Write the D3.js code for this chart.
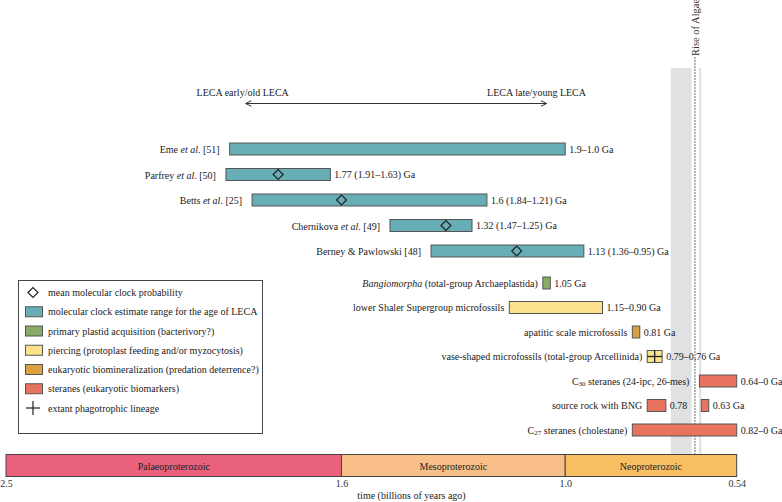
<!DOCTYPE html>
<html>
<head>
<meta charset="utf-8">
<script src="https://cdn.jsdelivr.net/npm/d3@7"></script>
<style>
  html, body { margin: 0; padding: 0; background: #fff; }
  svg { display: block; font-family: "Liberation Serif", "Times New Roman", serif; }
</style>
</head>
<body>
<svg id="chart" width="782" height="502"></svg>
<script>
// ---------- data ----------
const lecaStudies = ["Eme", "Parfrey", "Betts", "Chernikova", "Berney & Pawlowski [48]"];
const lecaEtAl = [true, true, true, true, false];
const lecaRefs = ["[51]", "[50]", "[25]", "[49]", ""];
const lecaStart = [1.9, 1.91, 1.84, 1.47, 1.36];
const lecaEnd = [1.0, 1.63, 1.21, 1.25, 0.95];
const lecaMean = [null, 1.77, 1.6, 1.32, 1.13];
const lecaLabels = ["1.9–1.0 Ga", "1.77 (1.91–1.63) Ga", "1.6 (1.84–1.21) Ga", "1.32 (1.47–1.25) Ga", "1.13 (1.36–0.95) Ga"];

const fossilRows = ["bangio", "shaler", "apatitic", "vase", "c30", "bng", "c27"];
const segRow = [0, 1, 2, 3, 4, 5, 5, 6];
const segStart = [1.06, 1.15, 0.82, 0.78, 0.64, 0.78, 0.635, 0.82];
const segEnd = [1.04, 0.90, 0.80, 0.74, 0, 0.73, 0.615, 0];
const segLabel = ["1.05 Ga", "1.15–0.90 Ga", "0.81 Ga", "0.79–0.76 Ga", "0.64–0 Ga", "0.78", "0.63 Ga", "0.82–0 Ga"];
const segCategory = ["plastid", "piercing", "biomin", "piercing", "steranes", "steranes", "steranes", "steranes"];
const segLineage = [false, false, false, true, false, false, false, false];

const glaciationStart = [0.717, 0.641];
const glaciationEnd = [0.661, 0.635];
const riseOfAlgae = 0.652;

const eraNames = ["Palaeoproterozoic", "Mesoproterozoic", "Neoproterozoic"];
const eraStart = [2.5, 1.6, 1.0];
const eraEnd = [1.6, 1.0, 0.54];
const tickValues = [2.5, 1.6, 1.0, 0.54];
const tickLabels = ["2.5", "1.6", "1.0", "0.54"];

const arrowFrom = 1.857, arrowTo = 1.05;

const legendLabels = [
  "mean molecular clock probability",
  "molecular clock estimate range for the age of LECA",
  "primary plastid acquisition (bacterivory?)",
  "piercing (protoplast feeding and/or myzocytosis)",
  "eukaryotic biomineralization (predation deterrence?)",
  "steranes (eukaryotic biomarkers)",
  "extant phagotrophic lineage"
];
const legendKinds = ["diamond", "leca", "plastid", "piercing", "biomin", "steranes", "cross"];

// ---------- styles ----------
const colors = {
  leca: "#67aeb6", plastid: "#8aab68", piercing: "#fce28b",
  biomin: "#d9a142", steranes: "#e8735e"
};
const eraColors = ["#e9617d", "#f8c088", "#f9bf63"];
const stroke = "#555";
const fontSize = 10;

// ---------- scales ----------
const svg = d3.select("#chart");
const x = d3.scaleLinear().domain([2.5, 0.54]).range([6, 736.7]).clamp(true);
const yLeca = d3.scalePoint().domain(d3.range(lecaStudies.length)).range([149, 251]);
const yFossil = d3.scalePoint().domain(d3.range(fossilRows.length)).range([283, 430]);
const barH = 12;

// glaciation bands
svg.append("g").selectAll("rect").data(glaciationStart).join("rect")
  .attr("x", (d) => x(d))
  .attr("width", (d, i) => x(glaciationEnd[i]) - x(d))
  .attr("y", 68).attr("height", 454 - 68)
  .attr("fill", "#e1e1e3");

// rise of algae
svg.append("line")
  .attr("x1", x(riseOfAlgae)).attr("x2", x(riseOfAlgae))
  .attr("y1", 57).attr("y2", 454)
  .attr("stroke", "#666").attr("stroke-width", 1).attr("stroke-dasharray", "2,1");
svg.append("text")
  .attr("transform", `translate(${x(riseOfAlgae) + 4},56) rotate(-90)`)
  .attr("font-size", 10.5).attr("fill", "#333")
  .text("Rise of Algae");

// arrow
const defs = svg.append("defs");
defs.append("marker").attr("id", "arrowEnd").attr("viewBox", "0 0 10 10")
  .attr("refX", 9).attr("refY", 5).attr("markerWidth", 7).attr("markerHeight", 7)
  .attr("orient", "auto-start-reverse").attr("markerUnits", "userSpaceOnUse")
  .append("path").attr("d", "M1,1 L9,5 L1,9").attr("fill", "none")
  .attr("stroke", "#333").attr("stroke-width", 1.4);
svg.append("line")
  .attr("x1", x(arrowFrom)).attr("x2", x(arrowTo))
  .attr("y1", 103.5).attr("y2", 103.5)
  .attr("stroke", "#333").attr("stroke-width", 1.2)
  .attr("marker-start", "url(#arrowEnd)").attr("marker-end", "url(#arrowEnd)");
svg.append("text").attr("x", x(arrowFrom) - 3).attr("y", 92)
  .attr("text-anchor", "middle").attr("dominant-baseline", "central")
  .attr("font-size", fontSize).attr("fill", "#222").text("LECA early/old LECA");
svg.append("text").attr("x", x(arrowTo) - 10).attr("y", 92)
  .attr("text-anchor", "middle").attr("dominant-baseline", "central")
  .attr("font-size", fontSize).attr("fill", "#222").text("LECA late/young LECA");

// LECA bars
const gL = svg.append("g");
lecaStudies.forEach((name, i) => {
  const y0 = yLeca(i);
  gL.append("rect")
    .attr("x", x(lecaStart[i])).attr("y", y0 - barH / 2)
    .attr("width", x(lecaEnd[i]) - x(lecaStart[i])).attr("height", barH)
    .attr("fill", colors.leca).attr("stroke", stroke).attr("stroke-width", 1);
  if (lecaMean[i] != null) {
    const cx = x(lecaMean[i]);
    gL.append("path")
      .attr("d", `M${cx - 5},${y0} L${cx},${y0 - 5} L${cx + 5},${y0} L${cx},${y0 + 5} Z`)
      .attr("fill", "none").attr("stroke", "#222").attr("stroke-width", 1.2);
  }
  const t = gL.append("text").attr("x", x(lecaStart[i]) - 10).attr("y", y0)
    .attr("text-anchor", "end").attr("dominant-baseline", "central")
    .attr("font-size", fontSize).attr("fill", "#222");
  t.append("tspan").text(name);
  if (lecaEtAl[i]) {
    t.append("tspan").text(" ");
    t.append("tspan").attr("font-style", "italic").text("et al");
    t.append("tspan").text(". " + lecaRefs[i]);
  }
  gL.append("text").attr("x", x(lecaEnd[i]) + 4).attr("y", y0)
    .attr("dominant-baseline", "central")
    .attr("font-size", fontSize).attr("fill", "#222").text(lecaLabels[i]);
});

// fossil rows
const gF = svg.append("g");
segStart.forEach((s, i) => {
  const y0 = yFossil(segRow[i]);
  const x0 = x(s), x1 = x(segEnd[i]);
  gF.append("rect")
    .attr("x", x0).attr("y", y0 - barH / 2)
    .attr("width", x1 - x0).attr("height", barH)
    .attr("fill", colors[segCategory[i]]).attr("stroke", stroke).attr("stroke-width", 1);
  if (segLineage[i]) {
    const cx = (x0 + x1) / 2;
    gF.append("line").attr("x1", cx).attr("x2", cx).attr("y1", y0 - barH / 2).attr("y2", y0 + barH / 2)
      .attr("stroke", "#222").attr("stroke-width", 1.3);
    gF.append("line").attr("x1", x0).attr("x2", x1).attr("y1", y0).attr("y2", y0)
      .attr("stroke", "#222").attr("stroke-width", 1.3);
  }
  gF.append("text").attr("x", x1 + 4).attr("y", y0)
    .attr("dominant-baseline", "central")
    .attr("font-size", fontSize).attr("fill", "#222").text(segLabel[i]);
});

// fossil row names
fossilRows.forEach((key, r) => {
  const firstSeg = segRow.indexOf(r);
  const start = segStart[firstSeg];
  const gap = start < 0.7 ? 10 : 5;
  const t = gF.append("text").attr("x", x(start) - gap).attr("y", yFossil(r))
    .attr("text-anchor", "end").attr("dominant-baseline", "central")
    .attr("font-size", fontSize).attr("fill", "#222");
  if (key === "bangio") {
    t.append("tspan").attr("font-style", "italic").text("Bangiomorpha");
    t.append("tspan").text(" (total-group Archaeplastida)");
  } else if (key === "shaler") {
    t.text("lower Shaler Supergroup microfossils");
  } else if (key === "apatitic") {
    t.text("apatitic scale microfossils");
  } else if (key === "vase") {
    t.text("vase-shaped microfossils (total-group Arcellinida)");
  } else if (key === "c30") {
    t.append("tspan").text("C");
    t.append("tspan").attr("font-size", 7).attr("dy", 3).text("30");
    t.append("tspan").attr("dy", -3).text(" steranes (24-ipc, 26-mes)");
  } else if (key === "bng") {
    t.text("source rock with BNG");
  } else if (key === "c27") {
    t.append("tspan").text("C");
    t.append("tspan").attr("font-size", 7).attr("dy", 3).text("27");
    t.append("tspan").attr("dy", -3).text(" steranes (cholestane)");
  }
});

// legend
const lg = svg.append("g");
lg.append("rect").attr("x", 18.5).attr("y", 280.5).attr("width", 244).attr("height", 153)
  .attr("fill", "#fff").attr("stroke", "#444").attr("stroke-width", 1);
const ly = d3.scalePoint().domain(d3.range(legendLabels.length)).range([292.5, 408]);
legendLabels.forEach((lab, i) => {
  const y0 = ly(i);
  const k = legendKinds[i];
  if (k === "diamond") {
    lg.append("path").attr("d", `M${28},${y0} L${33},${y0 - 5} L${38},${y0} L${33},${y0 + 5} Z`)
      .attr("fill", "#fff").attr("stroke", "#222").attr("stroke-width", 1.2);
  } else if (k === "cross") {
    lg.append("line").attr("x1", 26).attr("x2", 40).attr("y1", y0).attr("y2", y0).attr("stroke", "#222").attr("stroke-width", 1.2);
    lg.append("line").attr("x1", 33).attr("x2", 33).attr("y1", y0 - 7).attr("y2", y0 + 7).attr("stroke", "#222").attr("stroke-width", 1.2);
  } else {
    lg.append("rect").attr("x", 25.5).attr("y", y0 - 5).attr("width", 17).attr("height", 10)
      .attr("fill", colors[k]).attr("stroke", stroke).attr("stroke-width", 1);
  }
  lg.append("text").attr("x", 48).attr("y", y0).attr("dominant-baseline", "central")
    .attr("font-size", fontSize).attr("fill", "#222").text(lab);
});

// eras
const ge = svg.append("g");
eraNames.forEach((n, i) => {
  ge.append("rect").attr("x", x(eraStart[i])).attr("y", 454.5)
    .attr("width", x(eraEnd[i]) - x(eraStart[i])).attr("height", 22)
    .attr("fill", eraColors[i]).attr("stroke", "#444").attr("stroke-width", 1);
  ge.append("text").attr("x", (x(eraStart[i]) + x(eraEnd[i])) / 2).attr("y", 466)
    .attr("text-anchor", "middle").attr("dominant-baseline", "central")
    .attr("font-size", fontSize).attr("fill", "#222").text(n);
});

// axis
const axis = d3.axisBottom(x).tickValues(tickValues).tickSize(0)
  .tickFormat((d, i) => tickLabels[i]);
const ga = svg.append("g").attr("transform", "translate(0,477)").call(axis);
ga.select(".domain").remove();
ga.selectAll("text").attr("font-size", fontSize).attr("fill", "#333")
  .attr("font-family", "Liberation Serif, serif").attr("dy", "0.71em").attr("y", 2.5);

svg.append("text").attr("x", 411.5).attr("y", 495.5)
  .attr("text-anchor", "middle").attr("dominant-baseline", "central")
  .attr("font-size", fontSize).attr("fill", "#222").text("time (billions of years ago)");
</script>
</body>
</html>
